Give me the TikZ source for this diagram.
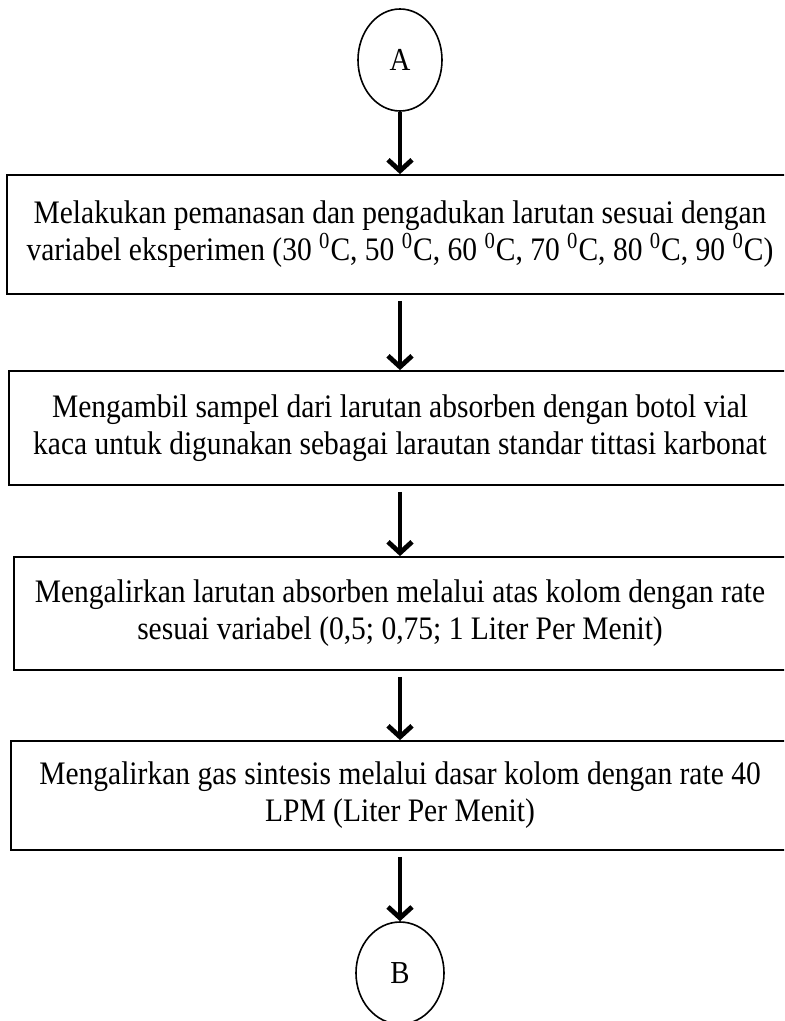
\documentclass[tikz,border=0pt]{standalone}
\usepackage{fontspec}
\setmainfont[FakeStretch=0.9]{Liberation Serif}
\usetikzlibrary{shapes.geometric,arrows.meta}

\begin{document}
\begin{tikzpicture}[x=0.5pt, y=-0.5pt,
  stepbox/.style={draw, rectangle, line width=0.9pt, inner sep=0pt, align=center,
    font=\fontsize{16.4}{18.5}\selectfont},
  connector/.style={draw, ellipse, line width=0.8pt, inner sep=0pt,
    minimum width=42pt, minimum height=51pt, font=\fontsize{16}{18}\selectfont},
  flow/.style={line width=2.4pt, -{Straight Barb[length=5.5pt,width=12pt]}}]

\useasboundingbox (0,0) rectangle (784,1021);
\clip (0,0) rectangle (784,1021);

\node [connector] (A) at (400,60) {A};

\node [stepbox, minimum width=393pt, minimum height=59.5pt] (pemanasan) at (400,234.5)
  {Melakukan pemanasan dan pengadukan larutan sesuai dengan\\
   variabel eksperimen (30 \textsuperscript{0}C, 50 \textsuperscript{0}C, 60 \textsuperscript{0}C, 70 \textsuperscript{0}C, 80 \textsuperscript{0}C, 90 \textsuperscript{0}C)};

\node [stepbox, minimum width=391pt, minimum height=57pt] (sampel) at (400,428)
  {Mengambil sampel dari larutan absorben dengan botol vial\\
   kaca untuk digunakan sebagai larautan standar tittasi karbonat};

\node [stepbox, minimum width=386pt, minimum height=56.5pt] (absorben) at (400,613.5)
  {Mengalirkan larutan absorben melalui atas kolom dengan rate\\
   sesuai variabel (0,5; 0,75; 1 Liter Per Menit)};

\node [stepbox, minimum width=389pt, minimum height=54.5pt] (gas) at (400,795.5)
  {Mengalirkan gas sintesis melalui dasar kolom dengan rate 40\\
   LPM (Liter Per Menit)};

\node [connector, minimum width=44pt] (B) at (400,973) {B};

\draw [flow] (A.south) -- (pemanasan.north);
\draw [flow, shorten <=3pt] (pemanasan.south) -- (sampel.north);
\draw [flow, shorten <=3pt] (sampel.south) -- (absorben.north);
\draw [flow, shorten <=3pt] (absorben.south) -- (gas.north);
\draw [flow, shorten <=3pt] (gas.south) -- (B.north);

\end{tikzpicture}
\end{document}
